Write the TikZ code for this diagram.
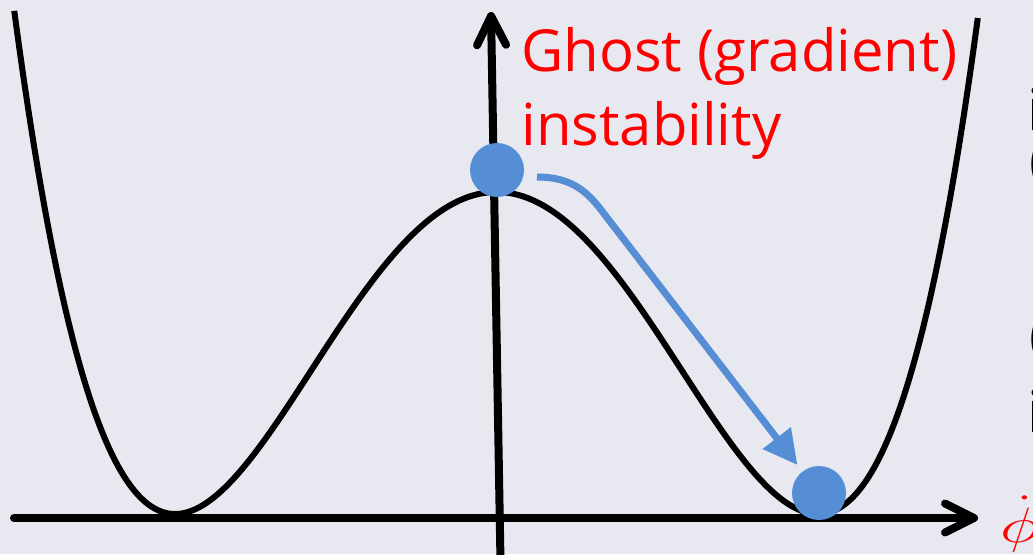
\documentclass[tikz,border=0pt]{standalone}
\usepackage{fontspec}
\setmainfont{Open Sans}
\usetikzlibrary{arrows.meta}
\definecolor{bg}{RGB}{232,233,240}
\definecolor{ballblue}{RGB}{85,142,213}
\begin{document}
\begin{tikzpicture}[x=0.5pt,y=-0.5pt,
  axis/.style={line width=4pt, line cap=round, -{Straight Barb[length=14.5pt,width=14.5pt,line cap=round,line join=round]}},
  curve/.style={line width=3pt},
  ball/.style={circle, fill=ballblue, inner sep=0pt, minimum size=27pt},
  flow/.style={line width=3.5pt, draw=ballblue, -{Triangle[length=17pt,width=17pt]}, shorten >=4pt},
  ghost/.style={text=red, inner sep=0pt, anchor=base west, font=\fontsize{29}{35}\selectfont},
  cut/.style={text=black, inner sep=0pt, anchor=base west, font=\fontsize{29}{35}\selectfont}]
\fill[bg] (0,0) rectangle (1033,554);
\useasboundingbox (0,0) rectangle (1033,554);
% potential
\draw[curve] plot[domain=-1.5:1.5, samples=200, smooth] ({496.5+321.5*\x},{514-322*(\x*\x-1)^2});
% axes
\coordinate (xs) at (14,518);
\coordinate (xe) at (978,518);
\coordinate (ys) at (500.5,562);
\coordinate (ye) at (491,12);
\draw[axis] (xs) -- (xe);
\draw[axis] (ys) -- (ye);
% balls
\node[ball] (top) at (497,170) {};
\node[ball] (bottom) at (819,493) {};
\coordinate (as) at (537,177);
\draw[flow] (as) .. controls (575,177) and (590,195) .. (605,215) -- (bottom);
% labels
\node[ghost] (g1) at (521,71) {Ghost (gradient)};
\node[ghost] (g2) at (521,145) {instability};
\node[cut] (c1) at (1027,130) {i};
\node[cut] (c2) at (1029.5,180) {(};
\node[cut] (c3) at (1029.5,355) {(};
\node[cut] (c4) at (1027,432) {i};
\node[text=red, inner sep=0pt, anchor=base west, font=\fontsize{29}{32}\selectfont] (phi) at (1000,542) {\scalebox{1.35}[1]{$\dot\phi$}};
\end{tikzpicture}
\end{document}
